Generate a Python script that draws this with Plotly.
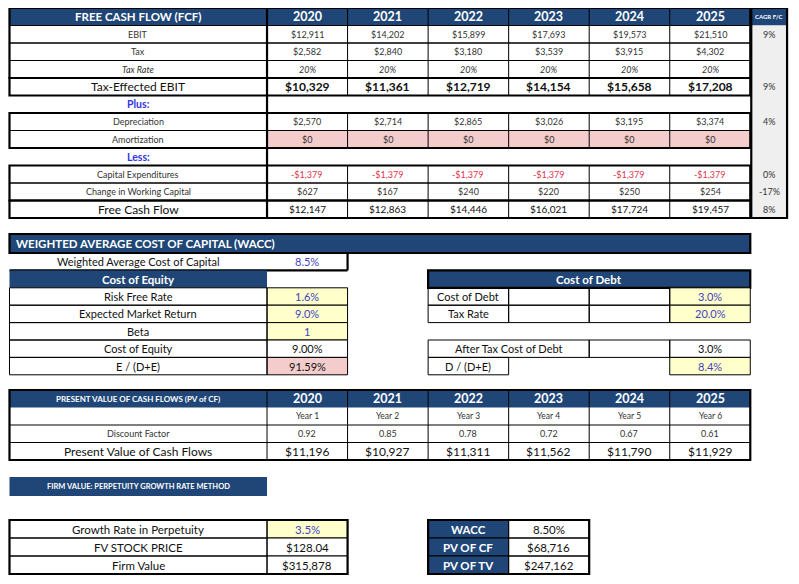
import plotly.graph_objects as go

# ---------------- DATA ----------------
years = ["2020", "2021", "2022", "2023", "2024", "2025"]
ebit = [12911, 14202, 15899, 17693, 19573, 21510]
tax = [2582, 2840, 3180, 3539, 3915, 4302]
tax_rate = [0.20, 0.20, 0.20, 0.20, 0.20, 0.20]
tax_effected_ebit = [10329, 11361, 12719, 14154, 15658, 17208]
depreciation = [2570, 2714, 2865, 3026, 3195, 3374]
amortization = [0, 0, 0, 0, 0, 0]
capital_expenditures = [-1379, -1379, -1379, -1379, -1379, -1379]
change_working_capital = [627, 167, 240, 220, 250, 254]
free_cash_flow = [12147, 12863, 14446, 16021, 17724, 19457]
cagr_ebit = 0.09
cagr_tax_effected_ebit = 0.09
cagr_depreciation = 0.04
cagr_capex = 0.00
cagr_working_capital = -0.17
cagr_fcf = 0.08

wacc = 0.085
risk_free_rate = 0.016
expected_market_return = 0.090
beta = 1
cost_of_equity = 0.09
equity_weight = 0.9159
cost_of_debt = 0.030
debt_tax_rate = 0.200
after_tax_cost_of_debt = 0.030
debt_weight = 0.084

year_numbers = ["Year 1", "Year 2", "Year 3", "Year 4", "Year 5", "Year 6"]
discount_factor = [0.92, 0.85, 0.78, 0.72, 0.67, 0.61]
pv_cash_flows = [11196, 10927, 11311, 11562, 11790, 11929]

growth_rate = 0.035
fv_stock_price = 128.04
firm_value = 315878
pv_of_cf = 68716
pv_of_tv = 247162

# ---------------- STYLE / LAYOUT ----------------
W, H = 799, 584
PAGE_MARGIN = 8  # default body margin of the html page
FONT = "Lato"
BLUE_HDR = "#1F4676"
YELLOW = "#FFFFCC"
PINK = "#F4CCCC"
GRAY = "#EFEFEF"
TXT = "#333333"
DARK = "#111111"
RED = "#E0344A"
INPUT_BLUE = "#3F3FBF"
LABEL_BLUE = "#3535E0"
THIN = 1
THICK = 2.2

X_LEFT = 5
X_LABEL_R = 264
COL_W = 81
col_edges = [X_LABEL_R + COL_W * i for i in range(len(years) + 1)]
X_RIGHT = col_edges[-1]
CAGR_X0, CAGR_X1 = X_RIGHT + 1, 787

shapes = []
annots = []


def money(v):
    return ("-$" if v < 0 else "$") + f"{abs(v):,.0f}"


def pct(v, d=0):
    return f"{v * 100:.{d}f}%"


def rect(x0, y0, x1, y1, fill=None, lw=0, lc="black"):
    shapes.append(dict(type="rect", xref="x", yref="y", x0=x0, x1=x1, y0=y0, y1=y1,
                       fillcolor=fill if fill else "rgba(0,0,0,0)",
                       line=dict(width=lw, color=lc), layer="above"))


def line(x0, y0, x1, y1, lw=THIN, lc="black"):
    shapes.append(dict(type="line", xref="x", yref="y", x0=x0, x1=x1, y0=y0, y1=y1,
                       line=dict(width=lw, color=lc), layer="above"))


def text(x0, x1, y0, y1, s, size=9.5, color=TXT, bold=False, italic=False, align="center"):
    if bold:
        s = f"<b>{s}</b>"
    if italic:
        s = f"<i>{s}</i>"
    if align == "center":
        x, xa = (x0 + x1) / 2, "center"
    else:
        x, xa = x0 + 5, "left"
    annots.append(dict(x=x, y=(y0 + y1) / 2, xref="x", yref="y", text=s, showarrow=False,
                       xanchor=xa, yanchor="middle",
                       font=dict(family=FONT, size=size, color=color)))


# ================= FREE CASH FLOW =================
HDR_Y0, HDR_Y1 = 8, 25.5
ROW_H = 17.5
fcf_rows = [
    ("EBIT", [money(v) for v in ebit], "small", pct(cagr_ebit)),
    ("Tax", [money(v) for v in tax], "small", ""),
    ("Tax Rate", [pct(v) for v in tax_rate], "italic", None),
    ("Tax-Effected EBIT", [money(v) for v in tax_effected_ebit], "big", pct(cagr_tax_effected_ebit)),
    ("Plus:", None, "spacer", ""),
    ("Depreciation", [money(v) for v in depreciation], "small", pct(cagr_depreciation)),
    ("Amortization", [money(v) for v in amortization], "pink", ""),
    ("Less:", None, "spacer", ""),
    ("Capital Expenditures", [money(v) for v in capital_expenditures], "red", pct(cagr_capex)),
    ("Change in Working Capital", [money(v) for v in change_working_capital], "small", pct(cagr_working_capital)),
    ("Free Cash Flow", [money(v) for v in free_cash_flow], "fcf", pct(cagr_fcf)),
]
row_edges = [HDR_Y1 + ROW_H * i for i in range(len(fcf_rows) + 1)]
FCF_BOTTOM = row_edges[-1]

# header
rect(X_LEFT, HDR_Y0, X_RIGHT, HDR_Y1, fill=BLUE_HDR)
text(X_LEFT, X_LABEL_R, HDR_Y0, HDR_Y1, "FREE CASH FLOW (FCF)", 11.5, "white", bold=True)
for i, yr in enumerate(years):
    text(col_edges[i], col_edges[i + 1], HDR_Y0, HDR_Y1, yr, 12.5, "white", bold=True)
    line(col_edges[i], HDR_Y0, col_edges[i], HDR_Y1, THIN, "black")
# CAGR column
rect(CAGR_X0, HDR_Y0, CAGR_X1, HDR_Y1, fill=BLUE_HDR)
rect(CAGR_X0, HDR_Y1, CAGR_X1, FCF_BOTTOM, fill=GRAY)
text(CAGR_X0, CAGR_X1, HDR_Y0, HDR_Y1, "CAGR F/C", 6, "white", bold=True)

for r, (label, vals, kind, cagr) in enumerate(fcf_rows):
    y0, y1 = row_edges[r], row_edges[r + 1]
    if kind == "spacer":
        text(X_LEFT, X_LABEL_R, y0, y1, label, 10.5, LABEL_BLUE, bold=True)
        continue
    if kind == "pink":
        rect(X_LABEL_R, y0, X_RIGHT, y1, fill=PINK)
    # grid
    line(X_LEFT, y0, X_RIGHT, y0)
    line(X_LEFT, y1, X_RIGHT, y1)
    for e in col_edges[1:-1]:
        line(e, y0, e, y1)
    big = kind in ("big", "fcf")
    lsize = 12 if big else 9
    vsize = 12 if kind == "big" else (10 if kind == "fcf" else 9)
    text(X_LEFT, X_LABEL_R, y0, y1, label, lsize, DARK if big else TXT, italic=(kind == "italic"))
    for i, v in enumerate(vals):
        text(col_edges[i], col_edges[i + 1], y0, y1, v, vsize,
             RED if kind == "red" else (DARK if big else TXT),
             bold=(kind == "big"), italic=(kind == "italic"))
    if cagr:
        text(CAGR_X0, CAGR_X1, y0, y1, cagr, 9, TXT)

# thick outlines FCF
rect(X_LEFT, HDR_Y0, X_RIGHT, row_edges[3], lw=THICK)
rect(X_LEFT, row_edges[3], X_RIGHT, row_edges[4], lw=THICK)
rect(X_LEFT, row_edges[5], X_RIGHT, row_edges[7], lw=THICK)
rect(X_LEFT, row_edges[8], X_RIGHT, row_edges[10], lw=THICK)
rect(X_LEFT, row_edges[10], X_RIGHT, row_edges[11], lw=THICK)
line(X_LABEL_R, HDR_Y0, X_LABEL_R, FCF_BOTTOM, THICK)
rect(CAGR_X0, HDR_Y0, CAGR_X1, FCF_BOTTOM, lw=THICK)

# ================= WACC =================
WH_Y0, WH_Y1 = 234, 253
WR_H = 17.4
rect(X_LEFT, WH_Y0, X_RIGHT, WH_Y1, fill=BLUE_HDR, lw=THICK)
text(X_LEFT, X_RIGHT, WH_Y0, WH_Y1, "WEIGHTED AVERAGE COST OF CAPITAL (WACC)", 11.5, "white",
     bold=True, align="left")
VAL_X1 = col_edges[1]
w_edges = [WH_Y1 + WR_H * i for i in range(8)]
# WACC row
text(X_LEFT, X_LABEL_R, w_edges[0], w_edges[1], "Weighted Average Cost of Capital", 11, DARK)
text(X_LABEL_R, VAL_X1, w_edges[0], w_edges[1], pct(wacc, 1), 11, INPUT_BLUE)
line(X_LEFT, w_edges[1], VAL_X1, w_edges[1], THICK)
line(VAL_X1, w_edges[0], VAL_X1, w_edges[1], THICK)

# Cost of equity
rect(X_LEFT, w_edges[1], X_LABEL_R, w_edges[2], fill=BLUE_HDR)
text(X_LEFT, X_LABEL_R, w_edges[1], w_edges[2], "Cost of Equity", 11.5, "white", bold=True)
eq_rows = [
    ("Risk Free Rate", pct(risk_free_rate, 1), YELLOW, INPUT_BLUE),
    ("Expected Market Return", pct(expected_market_return, 1), YELLOW, INPUT_BLUE),
    ("Beta", f"{beta}", YELLOW, INPUT_BLUE),
    ("Cost of Equity", pct(cost_of_equity, 2), "white", DARK),
    ("E / (D+E)", pct(equity_weight, 2), PINK, DARK),
]
for k, (lab, val, fill, col) in enumerate(eq_rows):
    y0, y1 = w_edges[2 + k], w_edges[3 + k]
    rect(X_LABEL_R, y0, VAL_X1, y1, fill=fill)
    rect(X_LEFT, y0, X_LABEL_R, y1, lw=THIN)
    rect(X_LABEL_R, y0, VAL_X1, y1, lw=THIN)
    text(X_LEFT, X_LABEL_R, y0, y1, lab, 11, DARK)
    text(X_LABEL_R, VAL_X1, y0, y1, val, 11, col)

# Cost of debt
D0 = col_edges[2]
rect(D0, w_edges[1], X_RIGHT, w_edges[2], fill=BLUE_HDR, lw=THICK)
text(D0, X_RIGHT, w_edges[1], w_edges[2], "Cost of Debt", 11.5, "white", bold=True)
debt_rows = [("Cost of Debt", pct(cost_of_debt, 1)), ("Tax Rate", pct(debt_tax_rate, 1))]
for k, (lab, val) in enumerate(debt_rows):
    y0, y1 = w_edges[2 + k], w_edges[3 + k]
    rect(col_edges[5], y0, X_RIGHT, y1, fill=YELLOW)
    for c in range(2, 6):
        rect(col_edges[c], y0, col_edges[c + 1], y1, lw=THIN)
    text(col_edges[2], col_edges[3], y0, y1, lab, 11, DARK)
    text(col_edges[5], X_RIGHT, y0, y1, val, 11, INPUT_BLUE)
# after tax cost of debt
y0, y1 = w_edges[5], w_edges[6]
rect(col_edges[2], y0, col_edges[4], y1, lw=THIN)
rect(col_edges[4], y0, col_edges[5], y1, lw=THIN)
rect(col_edges[5], y0, X_RIGHT, y1, lw=THIN)
text(col_edges[2], col_edges[4], y0, y1, "After Tax Cost of Debt", 11, DARK)
text(col_edges[5], X_RIGHT, y0, y1, pct(after_tax_cost_of_debt, 1), 11, DARK)
# D/(D+E)
y0, y1 = w_edges[6], w_edges[7]
rect(col_edges[5], y0, X_RIGHT, y1, fill=YELLOW)
rect(col_edges[2], y0, col_edges[3], y1, lw=THIN)
rect(col_edges[5], y0, X_RIGHT, y1, lw=THIN)
text(col_edges[2], col_edges[3], y0, y1, "D / (D+E)", 11, DARK)
text(col_edges[5], X_RIGHT, y0, y1, pct(debt_weight, 1), 11, INPUT_BLUE)

# ================= PV OF CASH FLOWS =================
PH_Y0, PH_Y1 = 390, 407.5
PR_H = 17.5
p_edges = [PH_Y1 + PR_H * i for i in range(4)]
rect(X_LEFT, PH_Y0, X_RIGHT, PH_Y1, fill=BLUE_HDR)
text(X_LEFT, X_LABEL_R, PH_Y0, PH_Y1, "PRESENT VALUE OF CASH FLOWS (PV of CF)", 8, "white", bold=True)
for i, yr in enumerate(years):
    text(col_edges[i], col_edges[i + 1], PH_Y0, PH_Y1, yr, 12.5, "white", bold=True)
    line(col_edges[i], PH_Y0, col_edges[i], PH_Y1, THIN)
pv_rows = [
    ("", year_numbers, 8.5, 8.5),
    ("Discount Factor", [f"{v:.2f}" for v in discount_factor], 9, 9),
    ("Present Value of Cash Flows", [money(v) for v in pv_cash_flows], 12, 12),
]
for r, (lab, vals, ls, vs) in enumerate(pv_rows):
    y0, y1 = p_edges[r], p_edges[r + 1]
    line(X_LEFT, y1, X_RIGHT, y1)
    for e in col_edges[:-1]:
        line(e, y0, e, y1)
    text(X_LEFT, X_LABEL_R, y0, y1, lab, ls, DARK if ls > 10 else TXT)
    for i, v in enumerate(vals):
        text(col_edges[i], col_edges[i + 1], y0, y1, v, vs, DARK if vs > 10 else TXT)
rect(X_LEFT, PH_Y0, X_RIGHT, p_edges[-1], lw=THICK)

# ================= FIRM VALUE =================
FH_Y0, FH_Y1 = 477, 496
rect(X_LEFT, FH_Y0, X_LABEL_R, FH_Y1, fill=BLUE_HDR)
text(X_LEFT, X_LABEL_R, FH_Y0, FH_Y1, "FIRM VALUE: PERPETUITY GROWTH RATE METHOD", 7.5, "white", bold=True)
FT_Y0 = 520
FR_H = 18
f_edges = [FT_Y0 + FR_H * i for i in range(4)]
firm_rows = [
    ("Growth Rate in Perpetuity", pct(growth_rate, 1), YELLOW, INPUT_BLUE),
    ("FV STOCK PRICE", f"${fv_stock_price:,.2f}", "white", DARK),
    ("Firm Value", money(firm_value), "white", DARK),
]
for k, (lab, val, fill, col) in enumerate(firm_rows):
    y0, y1 = f_edges[k], f_edges[k + 1]
    rect(X_LABEL_R, y0, VAL_X1, y1, fill=fill)
    rect(X_LEFT, y0, X_LABEL_R, y1, lw=THIN)
    rect(X_LABEL_R, y0, VAL_X1, y1, lw=THIN)
    text(X_LEFT, X_LABEL_R, y0, y1, lab, 11.5, DARK)
    text(X_LABEL_R, VAL_X1, y0, y1, val, 11.5, col)
rect(X_LEFT, f_edges[0], VAL_X1, f_edges[-1], lw=THICK)

summary_rows = [("WACC", pct(wacc, 2)), ("PV OF CF", money(pv_of_cf)), ("PV OF TV", money(pv_of_tv))]
for k, (lab, val) in enumerate(summary_rows):
    y0, y1 = f_edges[k], f_edges[k + 1]
    rect(col_edges[2], y0, col_edges[3], y1, fill=BLUE_HDR, lw=THIN)
    rect(col_edges[3], y0, col_edges[4], y1, lw=THIN)
    text(col_edges[2], col_edges[3], y0, y1, lab, 11.5, "white", bold=True)
    text(col_edges[3], col_edges[4], y0, y1, val, 11.5, DARK)
rect(col_edges[2], f_edges[0], col_edges[4], f_edges[-1], lw=THICK)

# ---------------- FIGURE ----------------
# The page adds an 8px body margin, so the figure is sized to fit the window and the
# axis ranges are chosen so that page pixels line up with the layout coordinates.
FIG_W, FIG_H = W - PAGE_MARGIN, H - PAGE_MARGIN
fig = go.Figure()
fig.add_trace(go.Scatter(x=[X_LEFT, W], y=[PAGE_MARGIN, H], mode="markers", marker=dict(opacity=0),
                         hoverinfo="skip", showlegend=False))
fig.update_layout(
    width=FIG_W, height=FIG_H, margin=dict(l=0, r=0, t=0, b=0),
    paper_bgcolor="white", plot_bgcolor="white",
    xaxis=dict(range=[X_LEFT - 1.5, W], visible=False, fixedrange=True),
    yaxis=dict(range=[H, PAGE_MARGIN], visible=False, fixedrange=True),
    shapes=shapes, annotations=annots, showlegend=False,
)
fig.write_html("out.html")
